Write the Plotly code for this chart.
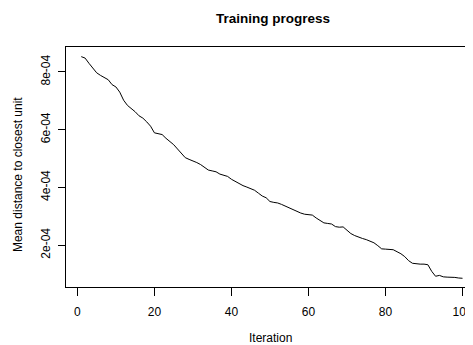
import plotly.graph_objects as go

iterations = list(range(1, 101))
mean_distance_e4 = [
    8.53, 8.48, 8.30, 8.13, 7.97, 7.88, 7.80, 7.73, 7.56, 7.48,
    7.30, 7.02, 6.84, 6.74, 6.62, 6.48, 6.40, 6.27, 6.12, 5.89,
    5.87, 5.83, 5.70, 5.60, 5.48, 5.33, 5.17, 5.03, 4.97, 4.92,
    4.86, 4.79, 4.68, 4.60, 4.57, 4.54, 4.46, 4.41, 4.38, 4.28,
    4.21, 4.12, 4.06, 4.01, 3.95, 3.90, 3.80, 3.70, 3.64, 3.51,
    3.48, 3.46, 3.41, 3.35, 3.29, 3.22, 3.17, 3.11, 3.07, 3.05,
    3.04, 2.94, 2.85, 2.77, 2.75, 2.73, 2.64, 2.62, 2.63, 2.52,
    2.40, 2.33, 2.27, 2.23, 2.19, 2.14, 2.08, 1.98, 1.87, 1.86,
    1.86, 1.84, 1.77, 1.70, 1.60, 1.46, 1.37, 1.35, 1.34, 1.34,
    1.32, 1.09, 0.92, 0.95, 0.90, 0.89, 0.89, 0.88, 0.86, 0.85,
]
mean_distance = [v * 1e-4 for v in mean_distance_e4]

x_ticks = [0, 20, 40, 60, 80, 100]
y_ticks = [2e-4, 4e-4, 6e-4, 8e-4]
y_tick_labels = ["2e-04", "4e-04", "6e-04", "8e-04"]

FONT = "Liberation Sans, Arial, sans-serif"
OFF = 8  # default page body margin

W, H = 473 - OFF, 345 - OFF

fig = go.Figure()
fig.add_trace(go.Scatter(
    x=iterations, y=mean_distance, mode="lines",
    line=dict(color="#000000", width=1), showlegend=False,
    hoverinfo="skip",
))

fig.update_layout(
    width=W, height=H,
    margin=dict(l=66 - OFF, r=0, t=47 - OFF, b=58),
    paper_bgcolor="white", plot_bgcolor="white",
    font=dict(family=FONT, size=12, color="#000000"),
    title=dict(text="<b>Training progress</b>", x=(273 - OFF) / W, xanchor="center",
               y=1 - (18 - OFF) / H, yanchor="middle",
               font=dict(family=FONT, size=13.5, color="#000000")),
    xaxis=dict(
        range=[-2.96, 101.94], tickmode="array", tickvals=x_ticks,
        ticktext=[str(t) for t in x_ticks],
        ticks="outside", ticklen=8, tickwidth=1, tickcolor="#000000",
        ticklabelstandoff=6, ticklabeloverflow="allow",
        showline=True, linecolor="#000000", linewidth=1, mirror=True,
        showgrid=False, zeroline=False,
        tickfont=dict(family=FONT, size=12, color="#000000"),
    ),
    yaxis=dict(
        range=[0.548e-4, 8.864e-4], tickmode="array", tickvals=y_ticks,
        ticktext=y_tick_labels, tickangle=-90,
        ticks="outside", ticklen=7, tickwidth=1, tickcolor="#000000",
        ticklabelstandoff=3,
        showline=True, linecolor="#000000", linewidth=1, mirror=False,
        showgrid=False, zeroline=False,
        tickfont=dict(family=FONT, size=12, color="#000000"),
    ),
    annotations=[
        dict(text="Iteration", xref="paper", yref="paper",
             x=(272 - 66) / 407, y=(287.3 - 338) / 240,
             xanchor="center", yanchor="middle", showarrow=False,
             font=dict(family=FONT, size=12, color="#000000")),
        dict(text="Mean distance to closest unit", xref="paper", yref="paper",
             x=(17.5 - 66) / 407, y=0.47, textangle=-90,
             xanchor="center", yanchor="middle", showarrow=False,
             font=dict(family=FONT, size=12, color="#000000")),
    ],
)

fig.write_html("out.html")
